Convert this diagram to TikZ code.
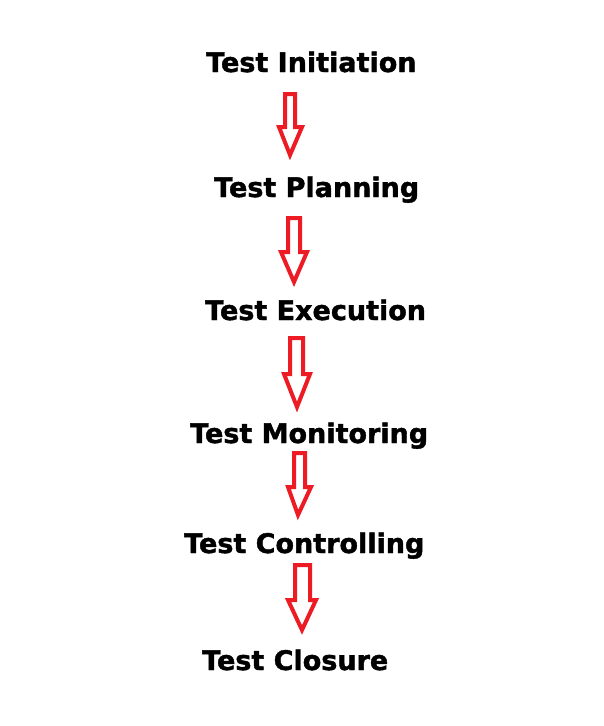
\documentclass[tikz,border=0pt]{standalone}
\usepackage{fontspec}
\setmainfont{DejaVu Sans}[BoldFeatures={FakeBold=1.5}]
\definecolor{arrred}{HTML}{ED1C24}
\begin{document}
\begin{tikzpicture}[x=1pt,y=-1pt,
  stage/.style={font=\bfseries\fontsize{27}{32}\selectfont, anchor=base west, inner sep=0pt, text=black},
  blockarrow/.style={draw=arrred, line width=4pt, line join=miter, fill=white}]
\useasboundingbox[fill=white] (0,0) rectangle (604,726);
\node[stage] (s1) at (206,72) {Test Initiation};
\node[stage] (s2) at (214,197) {Test Planning};
\node[stage] (s3) at (205,320) {Test Execution};
\node[stage] (s4) at (190,443) {Test Monitoring};
\node[stage] (s5) at (184,553) {Test Controlling};
\node[stage] (s6) at (202,670) {Test Closure};
% block arrows: shaft left, shaft right, top, head y, head left, head right, tip x, tip y
\newcommand\blockarr[8]{%
  \draw[blockarrow] (#1,#3) -- (#2,#3) -- (#2,#4) -- (#6,#4) -- (#7,#8) -- (#5,#4) -- (#1,#4) -- cycle;}
\blockarr{285}{295}{94}{127}{279}{302}{290}{155}
\blockarr{288}{300}{218}{252}{281}{307}{294}{282}
\blockarr{290}{303}{338}{374}{284}{310}{297}{407}
\blockarr{294}{305}{453}{487}{288}{311}{298}{515}
\blockarr{295}{310}{565}{600}{288}{316}{302}{630}
\end{tikzpicture}
\end{document}
